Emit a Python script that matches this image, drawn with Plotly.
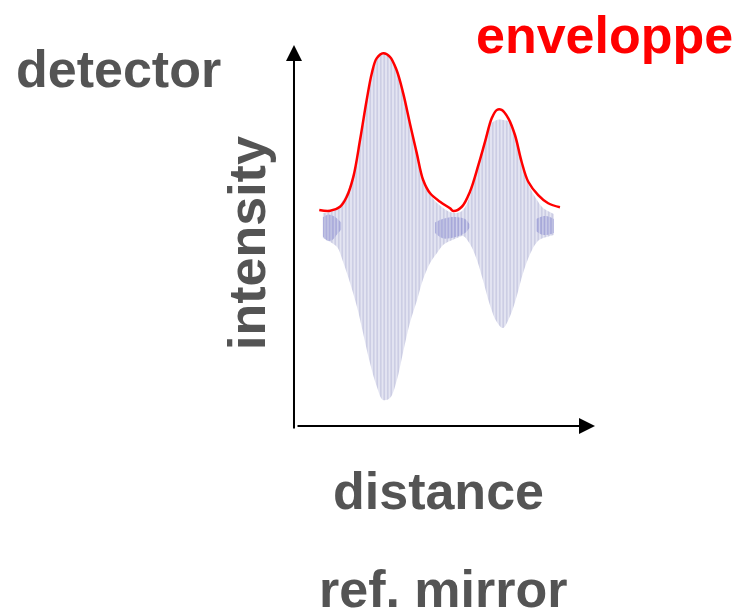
import plotly.graph_objects as go

# ---- data (distance 0..100, intensity with baseline 0) ----
fringe_dist = [9.9, 12.3, 14.6, 16.6, 18.9, 21.2, 23.2, 25.5, 27.8, 29.8, 32.1, 34.4,
               36.4, 38.7, 41.1, 43.0, 45.4, 47.7, 49.7, 52.0, 54.3, 56.3, 58.6, 60.9,
               62.9, 65.2, 67.5, 69.5, 71.9, 74.2, 76.2, 78.5, 80.8, 82.8, 85.1, 86.4]
fringe_top = [7.4, 8.0, 10.3, 14.9, 23.4, 39.4, 57.7, 80.6, 94.9, 99.4, 96.6, 88.0,
              74.9, 57.7, 40.6, 25.1, 17.7, 13.1, 10.3, 8.0, 7.4, 9.1, 17.1, 30.9,
              45.1, 57.7, 60.6, 60.6, 59.4, 46.3, 32.0, 21.7, 14.9, 10.3, 8.0, 6.9]
fringe_bottom = [-6.9, -9.1, -12.0, -20.6, -32.6, -46.3, -61.1, -78.3, -92.0, -99.4, -98.3, -88.0,
                 -72.6, -55.4, -42.3, -30.9, -21.1, -15.4, -10.9, -8.6, -6.9, -5.7, -10.3, -19.4,
                 -30.9, -45.1, -54.9, -58.3, -51.4, -39.4, -26.9, -16.0, -9.1, -6.9, -5.7, -5.1]

env_dist = [8.7, 12.3, 15.6, 17.8, 20.0, 22.2, 24.4, 26.1, 27.7, 29.9, 32.1, 34.3, 36.5,
            38.7, 41.0, 43.1, 45.4, 48.7, 52.0, 53.1, 55.9, 58.6, 61.4, 63.6, 65.8, 67.5,
            69.1, 71.3, 73.5, 75.7, 77.9, 81.2, 84.5, 88.4]
env_int = [9.1, 8.7, 11.0, 16.7, 28.2, 49.1, 72.0, 87.3, 95.8, 98.7, 96.7, 89.1, 75.8,
           58.7, 41.5, 26.3, 18.7, 13.9, 10.1, 8.6, 11.0, 19.6, 34.9, 48.2, 61.5, 66.3,
           66.3, 61.5, 52.0, 36.7, 25.3, 17.7, 13.0, 10.7]

# bluish noise bands around the baseline
noise_dist = [[9.9, 11.5, 13.0, 14.5, 16.0], [47.0, 49.5, 52.0, 54.5, 57.0, 58.5],
              [80.5, 82.5, 84.5, 86.4]]
noise_top = [[5.0, 6.5, 6.0, 4.5, 2.0], [2.0, 4.0, 5.0, 5.0, 4.0, 1.0], [4.0, 5.5, 5.5, 4.0]]
noise_bottom = [[-6.0, -8.5, -8.0, -5.0, -2.0], [-4.0, -7.0, -7.0, -6.0, -4.0, -1.0],
                [-3.0, -5.0, -5.0, -4.0]]

labels = {"detector": "detector", "envelope": "enveloppe", "y": "intensity",
          "x": "distance", "mirror": "ref. mirror"}

OFF = 8                      # default page margin of the html body
W, H = 742 - OFF, 613 - OFF
X_RANGE = [-94.37, 148.68]
Y_RANGE = [-221.14, 124.57]
GREY = "#545454"
FONT = "Liberation Sans, Arial, sans-serif"

fig = go.Figure()

fig.add_trace(go.Scatter(x=fringe_dist, y=fringe_bottom, mode="lines",
                         line=dict(width=0, shape="spline"), hoverinfo="skip", showlegend=False))
fig.add_trace(go.Scatter(x=fringe_dist, y=fringe_top, mode="lines",
                         line=dict(width=0, shape="spline"), fill="tonexty",
                         fillcolor="#e4e5f2",
                         fillpattern=dict(shape="|", size=3.5, solidity=0.33,
                                          fgcolor="#9a9cc8", bgcolor="#e4e5f2"),
                         hoverinfo="skip", showlegend=False))

for nd, nt, nb in zip(noise_dist, noise_top, noise_bottom):
    fig.add_trace(go.Scatter(x=nd, y=nb, mode="lines", line=dict(width=0, shape="spline"),
                             hoverinfo="skip", showlegend=False))
    fig.add_trace(go.Scatter(x=nd, y=nt, mode="lines", line=dict(width=0, shape="spline"),
                             fill="tonexty", fillcolor="rgba(140,142,210,0.35)",
                             fillpattern=dict(shape="|", size=3.3, solidity=0.5,
                                              fgcolor="rgba(110,112,195,0.7)",
                                              bgcolor="rgba(160,162,220,0.3)"),
                             hoverinfo="skip", showlegend=False))

fig.add_trace(go.Scatter(x=env_dist, y=env_int, mode="lines",
                         line=dict(color="#ff0000", width=2.5, shape="spline"),
                         hoverinfo="skip", showlegend=False))

# axis arrows
fig.add_annotation(x=0.33, y=103.4, ax=0.33, ay=-116.6, xref="x", yref="y",
                   axref="x", ayref="y", text="", showarrow=True,
                   arrowhead=2, arrowsize=1.6, arrowwidth=2, arrowcolor="black")
fig.add_annotation(x=100.0, y=-114.3, ax=1.0, ay=-114.3, xref="x", yref="y",
                   axref="x", ayref="y", text="", showarrow=True,
                   arrowhead=2, arrowsize=1.6, arrowwidth=2, arrowcolor="black")

def txt(t, px, py, color=GREY, angle=0, size=52):
    fig.add_annotation(x=(px - OFF) / W, y=1 - (py - OFF) / H, xref="paper", yref="paper",
                       text=t, showarrow=False, xanchor="center", yanchor="middle",
                       textangle=angle,
                       font=dict(family=FONT, size=size, color=color, weight="bold"))

txt(labels["detector"], 118, 69)
txt(labels["envelope"], 604, 35, color="#ff0000", size=52)
txt(labels["y"], 247, 243, angle=-90)
txt(labels["x"], 438, 491)
txt(labels["mirror"], 443, 589)

fig.update_layout(width=W, height=H, margin=dict(l=0, r=0, t=0, b=0),
                  paper_bgcolor="white", plot_bgcolor="white",
                  xaxis=dict(range=X_RANGE, visible=False, fixedrange=True),
                  yaxis=dict(range=Y_RANGE, visible=False, fixedrange=True))

fig.write_html("out.html")
